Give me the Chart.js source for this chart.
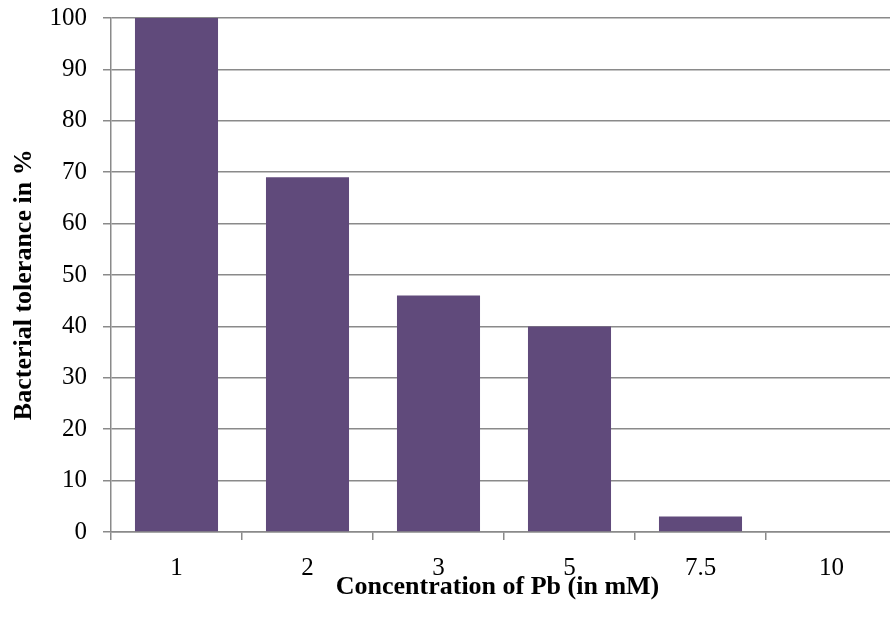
<!DOCTYPE html>
<html>
<head>
<meta charset="utf-8">
<script src="https://cdn.jsdelivr.net/npm/chart.js@4/dist/chart.umd.min.js"></script>
<style>
  html, body { margin: 0; padding: 0; background: #fff; overflow: hidden; }
  #wrap { width: 900px; height: 619px; }
</style>
</head>
<body>
<div id="wrap"><canvas id="c" width="900" height="619"></canvas></div>
<script>
// Pb concentration (mM) and bacterial tolerance (%)
const concentrations = ['1', '2', '3', '5', '7.5', '10'];
const tolerance = [100, 69, 46, 40, 3, 0];
const yTicks = [0, 10, 20, 30, 40, 50, 60, 70, 80, 90, 100];

const axisGrey = '#8a8a8a';
const serif = '"Liberation Serif", "Times New Roman", serif';

new Chart(document.getElementById('c'), {
  type: 'bar',
  data: {
    labels: concentrations,
    datasets: [{
      data: tolerance,
      backgroundColor: '#604A7B',
      borderWidth: 0,
      categoryPercentage: 1,
      barPercentage: 0.634
    }]
  },
  options: {
    responsive: false,
    animation: false,
    layout: { padding: { top: 18, right: 3, left: 0, bottom: 0 } },
    plugins: { legend: { display: false }, tooltip: { enabled: false } },
    scales: {
      x: {
        offset: true,
        grid: {
          offset: true,
          drawOnChartArea: false,
          drawTicks: true,
          tickLength: 8,
          color: axisGrey,
          lineWidth: 1.5
        },
        border: { color: axisGrey, width: 1.5 },
        ticks: {
          color: '#000',
          padding: 13,
          font: { family: serif, size: 25 }
        },
        title: {
          display: true,
          text: 'Concentration of Pb (in mM)  ',
          color: '#000',
          font: { family: serif, size: 26, weight: 'bold' },
          padding: { top: 0, bottom: 16 }
        },
        afterFit(scale) {
          scale.height = 87;
          scale.paddingLeft = 0;
          scale.paddingRight = 0;
        }
      },
      y: {
        min: 0,
        max: 100,
        afterBuildTicks(scale) { scale.ticks = yTicks.map(v => ({ value: v })); },
        grid: {
          color: axisGrey,
          lineWidth: 1.5,
          drawTicks: true,
          tickLength: 8
        },
        border: { color: axisGrey, width: 1.5 },
        ticks: {
          color: '#000',
          padding: 16,
          font: { family: serif, size: 25 }
        },
        title: {
          display: true,
          text: 'Bacterial tolerance in %   ',
          color: '#000',
          font: { family: serif, size: 26, weight: 'bold' },
          padding: { top: 9, bottom: 0 }
        },
        afterFit(scale) {
          scale.width = 111;
          scale.paddingTop = 0;
          scale.paddingBottom = 0;
        }
      }
    }
  }
});
</script>
</body>
</html>
